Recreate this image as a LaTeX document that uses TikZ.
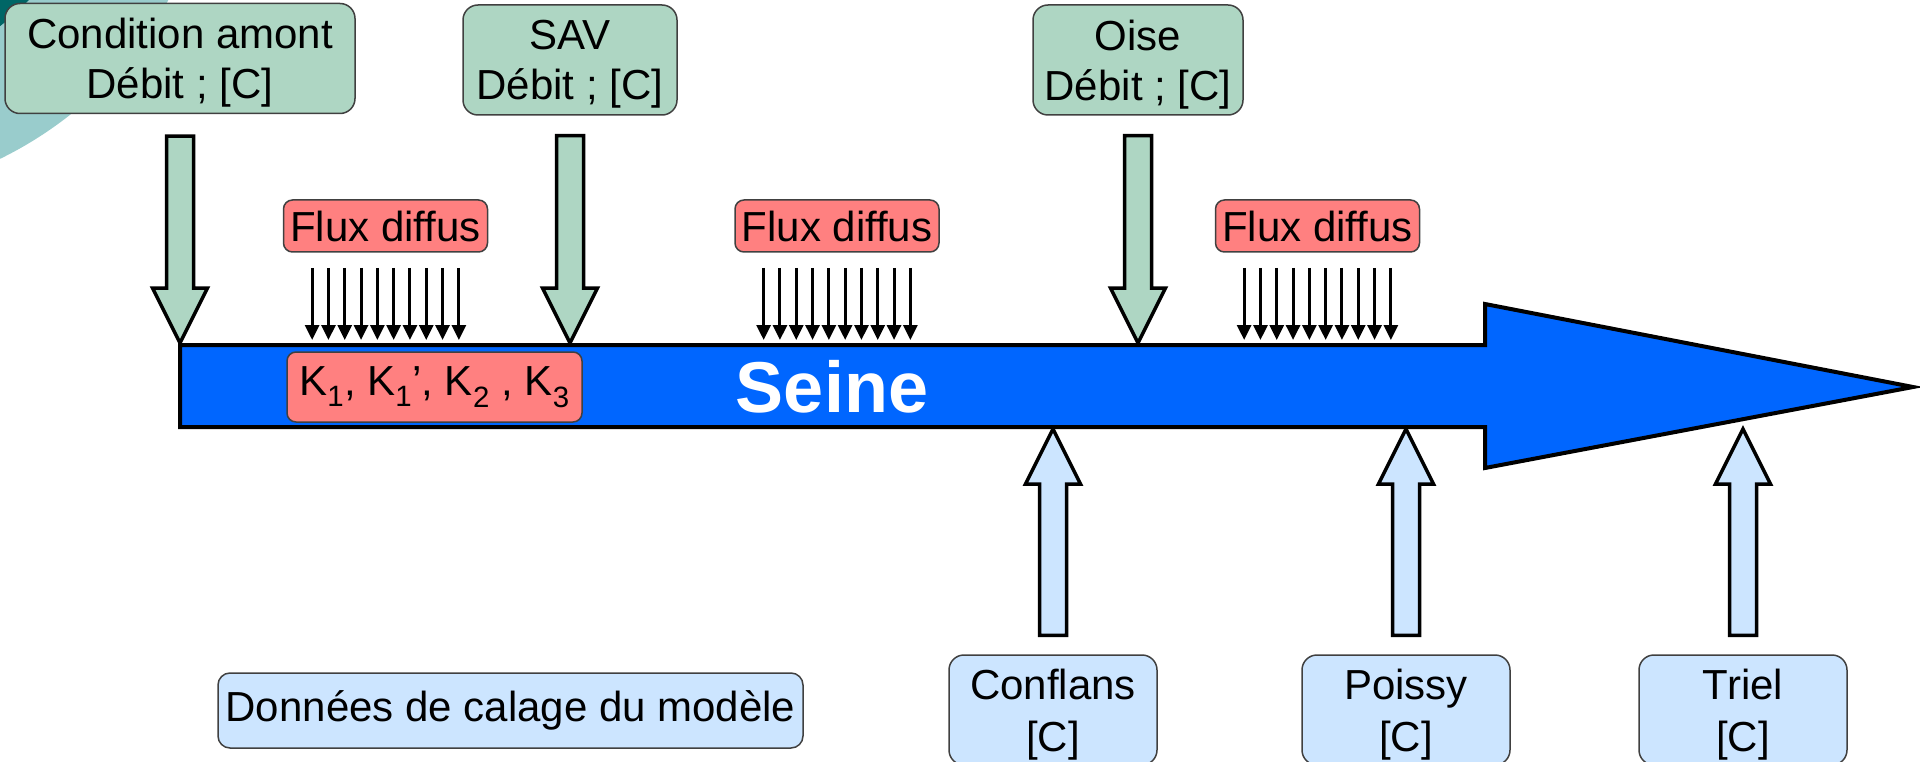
\documentclass[tikz,border=0pt]{standalone}
\usepackage{fontspec}
\setmainfont{Liberation Sans}
\usetikzlibrary{calc, arrows.meta}
\definecolor{srcgreen}{RGB}{174,214,195}
\definecolor{calblue}{RGB}{204,229,255}
\definecolor{fluxred}{RGB}{255,128,128}
\definecolor{seineblue}{RGB}{0,102,255}
\definecolor{tealdark}{RGB}{0,102,102}
\definecolor{teallight}{RGB}{153,204,204}

\begin{document}
\begin{tikzpicture}[x=1pt, y=-1pt,
  srcbox/.style={rectangle, rounded corners=15pt, draw=black!75, line width=1.5pt, fill=srcgreen, minimum width=350pt, minimum height=110pt, inner sep=0pt, align=center, text depth=0pt, font=\fontsize{42}{50}\selectfont},
  calbox/.style={srcbox, fill=calblue, minimum width=208pt, font=\fontsize{42}{52}\selectfont},
  flux/.style={srcbox, rounded corners=9pt, fill=fluxred, minimum width=204pt, minimum height=52pt, text depth=},
  fat/.style={line width=3.5pt, line join=miter, to path={let \p1=(\tikztostart), \p2=(\tikztotarget), \p3=($(\tikztotarget)!55pt!(\tikztostart)$) in (\x1-13.5pt,\y1) -- (\x1-13.5pt,\y3) -- (\x1-27.5pt,\y3) -- (\x2,\y2) -- (\x1+27.5pt,\y3) -- (\x1+13.5pt,\y3) -- (\x1+13.5pt,\y1) -- cycle}},
  inflow/.style={fat, draw=black, fill=srcgreen},
  calflow/.style={fat, draw=black, fill=calblue},
  rain/.style={line width=3pt, -{Triangle[width=14pt, length=15pt]}},
  river/.style={draw=black, line width=4pt, line join=miter, fill=seineblue}
]
\useasboundingbox (0,0) rectangle (1920,762);

\begin{scope}
  \clip (0,0) rectangle (1920,762);
  \fill[teallight] (-170,-190) circle[radius=388pt];
  \fill[tealdark] (-170,-190) circle[radius=275pt];
\end{scope}

\draw[river] (180,345) -- (1485,345) -- (1485,304) -- (1913,387) -- (1485,468) -- (1485,427) -- (180,427) -- cycle;
\node[font=\fontsize{72}{86}\selectfont\bfseries, text=white] (seine) at (832,387) {Seine};
\node[flux, minimum width=295pt, minimum height=70pt] (kparam) at (434.5,387) {K\textsubscript{1}, K\textsubscript{1}’, K\textsubscript{2} , K\textsubscript{3}};

\coordinate (tip-cond) at (180,343);
\coordinate (tip-sav) at (570,343);
\coordinate (tip-oise) at (1138,343);
\coordinate (tip-conflans) at (1053,429);
\coordinate (tip-poissy) at (1406,429);
\coordinate (tip-triel) at (1743,429);
\coordinate (rain-end) at (0,340);

\node[srcbox] (cond) at (180,58.5) {Condition amont\\Débit ; [C]};
\node[srcbox, minimum width=214pt] (sav) at (570,60) {SAV\\Débit ; [C]};
\node[srcbox, minimum width=210pt] (oise) at (1138,60) {Oise\\Débit ; [C]};

\node[flux] (flux1) at (385.5,226) {Flux diffus};
\node[flux] (flux2) at (837,226) {Flux diffus};
\node[flux] (flux3) at (1317.5,226) {Flux diffus};

\node[calbox] (conflans) at (1053,710) {Conflans\\{[C]}};
\node[calbox] (poissy) at (1406,710) {Poissy\\{[C]}};
\node[calbox] (triel) at (1743,710) {Triel\\{[C]}};
\node[calbox, minimum width=585pt, minimum height=75pt, rounded corners=12pt, text depth=] (legend) at (510.5,710.5) {Données de calage du modèle};

\draw[inflow] ([yshift=-22pt]cond.south) to (tip-cond);
\draw[inflow] ([yshift=-20pt]sav.south) to (tip-sav);
\draw[inflow] ([yshift=-20pt]oise.south) to (tip-oise);
\draw[calflow] ([yshift=19pt]conflans.north) to (tip-conflans);
\draw[calflow] ([yshift=19pt]poissy.north) to (tip-poissy);
\draw[calflow] ([yshift=19pt]triel.north) to (tip-triel);

\foreach \f in {flux1, flux2, flux3}
  \foreach \i in {0,...,9}
    \draw[rain] ([xshift={(\i-4.5)*16.3pt}, yshift=-15pt]\f.south) -- ([xshift={(\i-4.5)*16.3pt}]\f.south |- rain-end);

\end{tikzpicture}
\end{document}
